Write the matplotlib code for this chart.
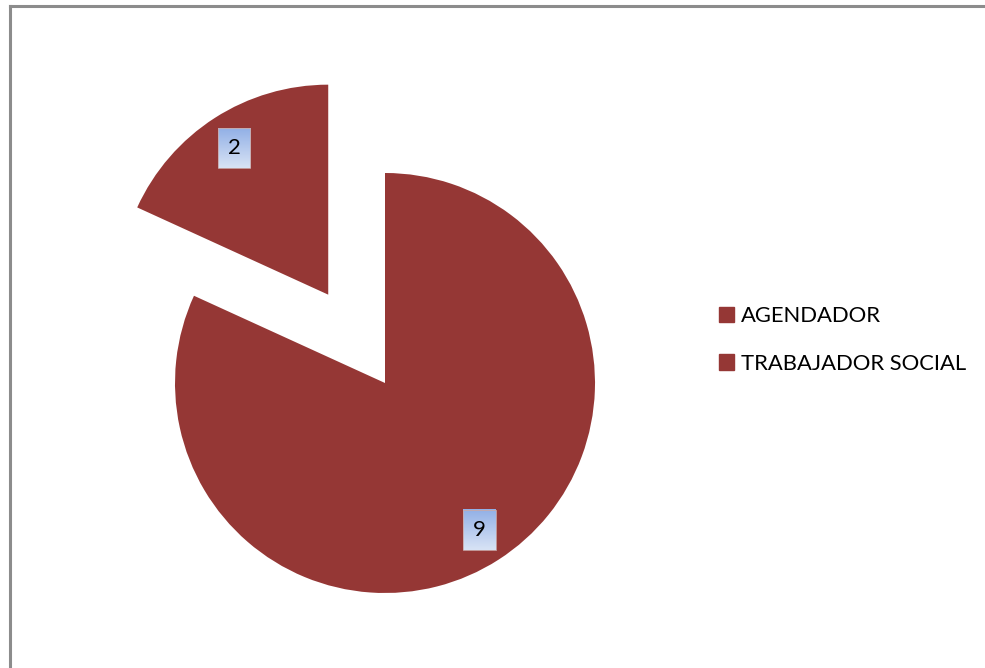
import numpy as np
import matplotlib.pyplot as plt
from matplotlib.colors import LinearSegmentedColormap
from matplotlib.lines import Line2D
from matplotlib.patches import Patch

categories = ["AGENDADOR", "TRABAJADOR SOCIAL"]
values = [9, 2]
explode = [0, 0.5]

slice_color = "#953735"

W, H = 985, 668
fig = plt.figure(figsize=(W / 100, H / 100), dpi=100, facecolor="white")
plt.rcParams["font.family"] = ["Lato", "DejaVu Sans"]

# pie axes: radius 1 == 210 px, centre at (385, 383) from the top-left
R = 210
cx, cy = 385, H - 383
half = 1.45
ax = fig.add_axes([(cx - half * R) / W, (cy - half * R) / H,
                   2 * half * R / W, 2 * half * R / H])

total = sum(values)
wedges, texts, autotexts = ax.pie(
    values,
    explode=explode,
    colors=[slice_color] * len(values),
    startangle=90,
    counterclock=False,
    radius=1,
    autopct=lambda p: f"{round(p * total / 100)}",
    pctdistance=0.83,
    textprops=dict(fontsize=16, color="black"),
)

for t in autotexts:
    t.set_bbox(dict(boxstyle="square,pad=0.45", facecolor="none",
                    edgecolor="#c9a9a9", linewidth=0.6))
    t.set_zorder(4)

ax.set_xlim(-half, half)
ax.set_ylim(-half, half)
ax.axis("off")

# gradient fill behind the value labels
fig.canvas.draw()
renderer = fig.canvas.get_renderer()
grad = LinearSegmentedColormap.from_list("lbl", ["#d8e3f5", "#92b0e6"])
inv = ax.transData.inverted()
for t in autotexts:
    ext = t.get_bbox_patch().get_window_extent(renderer)
    (x0, y0), (x1, y1) = inv.transform([[ext.x0, ext.y0], [ext.x1, ext.y1]])
    ax.imshow(np.linspace(0, 1, 64).reshape(-1, 1), cmap=grad, origin="lower",
              extent=[x0, x1, y0, y1], aspect="auto", zorder=3)
ax.set_xlim(-half, half)
ax.set_ylim(-half, half)

# legend
handles = [Patch(facecolor=slice_color, edgecolor=slice_color) for _ in categories]
fig.legend(handles, categories, loc="center left",
           bbox_to_anchor=(699 / W, 1 - 340 / H), frameon=False,
           fontsize=15.8, handlelength=0.7, handleheight=0.7,
           handletextpad=0.3, labelspacing=1.25)

# chart frame (only top and left edges fall inside the image)
fig.add_artist(Line2D([10 / W, 10 / W], [0, 1 - 6 / H], color="#8c8c8c",
                      lw=2.2, transform=fig.transFigure))
fig.add_artist(Line2D([10 / W, 1], [1 - 6 / H, 1 - 6 / H], color="#8c8c8c",
                      lw=2.2, transform=fig.transFigure))

fig.savefig("out.png", dpi=100, facecolor="white")
